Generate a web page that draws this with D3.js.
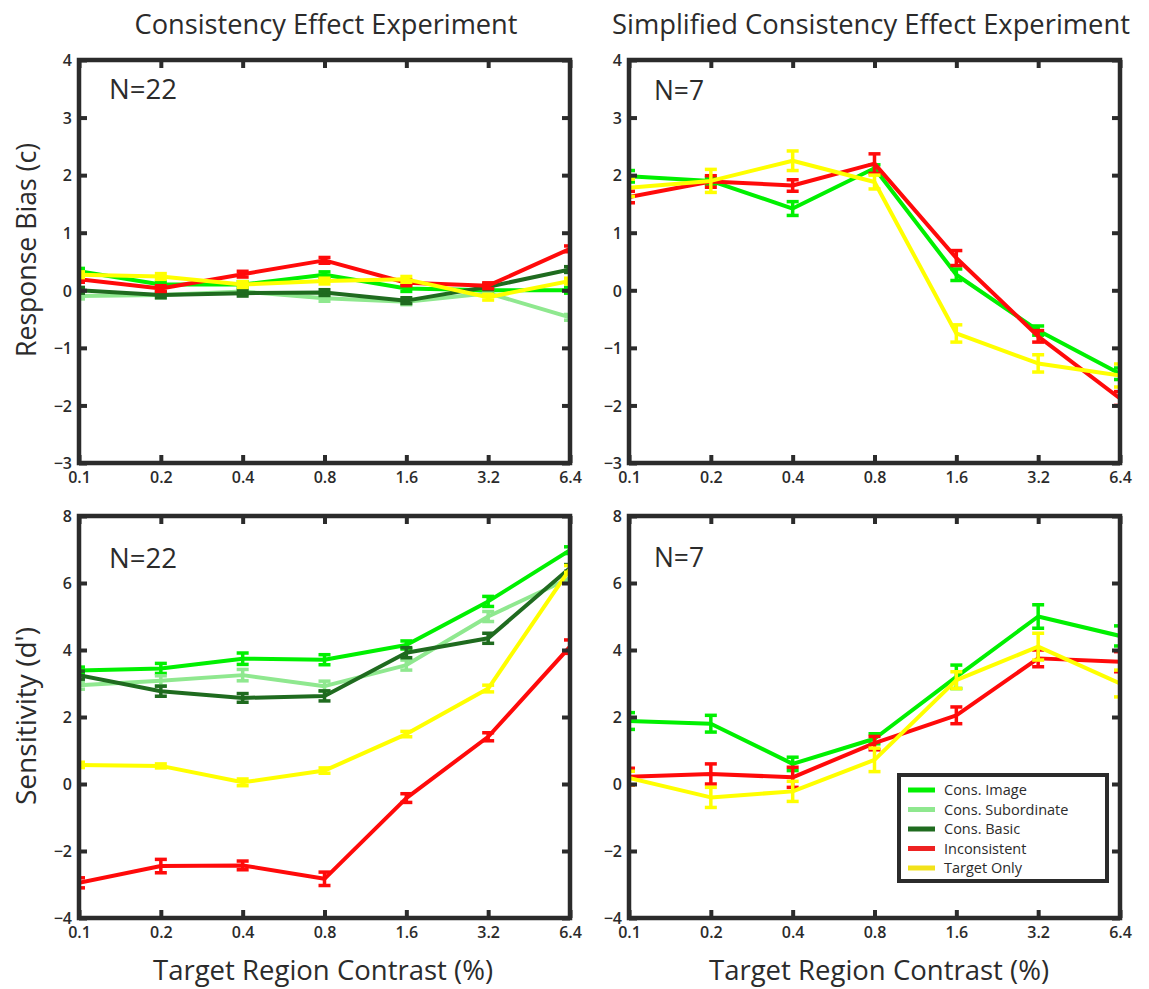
<!DOCTYPE html>
<html>
<head>
<meta charset="utf-8">
<script src="https://cdn.jsdelivr.net/npm/d3@7"></script>
<style>
  html, body { margin: 0; padding: 0; background: #fff; }
  svg { display: block; }
  text { font-family: "Open Sans", "Noto Sans", sans-serif; fill: #2b2b2b; }
</style>
</head>
<body>
<svg id="chart" width="1149" height="989"></svg>
<script>
// Contrast levels (log2-spaced) and their tick labels
const contrasts = [0.1, 0.2, 0.4, 0.8, 1.6, 3.2, 6.4];
const contrastLabels = ["0.1", "0.2", "0.4", "0.8", "1.6", "3.2", "6.4"];

// Condition names and colours
const conditions = ["Cons. Image", "Cons. Subordinate", "Cons. Basic", "Inconsistent", "Target Only"];
const conditionColors = ["#00f000", "#8fe88f", "#1f6b1f", "#ff0a0a", "#ffff00"];
const legendColors = ["#00f000", "#8fe88f", "#1f6b1f", "#ee2222", "#f2e21a"];

// Response bias (c), consistency effect experiment (N=22)
const biasFullImage        = [0.33, 0.10, 0.10, 0.27, 0.03, 0.00, 0.00];
const biasFullSubordinate  = [-0.10, -0.08, -0.02, -0.14, -0.20, -0.05, -0.47];
const biasFullBasic        = [0.00, -0.08, -0.05, -0.04, -0.18, 0.06, 0.36];
const biasFullInconsistent = [0.19, 0.03, 0.28, 0.52, 0.13, 0.08, 0.72];
const biasFullTarget       = [0.27, 0.24, 0.10, 0.16, 0.19, -0.12, 0.16];
const biasFullErr          = [0.05, 0.05, 0.05, 0.05, 0.05, 0.05, 0.05];

// Response bias (c), simplified experiment (N=7)
const biasSimpImage           = [1.98, 1.90, 1.42, 2.12, 0.27, -0.70, -1.45];
const biasSimpImageErr        = [0.10, 0.06, 0.12, 0.06, 0.10, 0.08, 0.10];
const biasSimpInconsistent    = [1.62, 1.89, 1.82, 2.20, 0.56, -0.80, -1.88];
const biasSimpInconsistentErr = [0.10, 0.10, 0.10, 0.17, 0.13, 0.10, 0.12];
const biasSimpTarget          = [1.78, 1.90, 2.25, 1.88, -0.75, -1.27, -1.48];
const biasSimpTargetErr       = [0.15, 0.20, 0.17, 0.12, 0.15, 0.15, 0.20];

// Sensitivity (d'), consistency effect experiment (N=22)
const sensFullImage           = [3.39, 3.45, 3.74, 3.71, 4.15, 5.45, 6.98];
const sensFullImageErr        = [0.10, 0.15, 0.17, 0.15, 0.12, 0.15, 0.10];
const sensFullSubordinate     = [2.95, 3.08, 3.25, 2.92, 3.55, 5.00, 6.15];
const sensFullSubordinateErr  = [0.12, 0.15, 0.17, 0.15, 0.15, 0.15, 0.10];
const sensFullBasic           = [3.25, 2.77, 2.57, 2.63, 3.92, 4.35, 6.45];
const sensFullBasicErr        = [0.12, 0.15, 0.13, 0.15, 0.15, 0.15, 0.10];
const sensFullInconsistent    = [-2.95, -2.45, -2.43, -2.83, -0.42, 1.41, 4.10];
const sensFullInconsistentErr = [0.15, 0.20, 0.13, 0.20, 0.13, 0.12, 0.20];
const sensFullTarget          = [0.57, 0.54, 0.05, 0.40, 1.49, 2.85, 6.42];
const sensFullTargetErr       = [0.08, 0.06, 0.10, 0.08, 0.08, 0.10, 0.10];

// Sensitivity (d'), simplified experiment (N=7)
const sensSimpImage           = [1.88, 1.80, 0.60, 1.35, 3.20, 5.00, 4.42];
const sensSimpImageErr        = [0.25, 0.25, 0.20, 0.15, 0.35, 0.35, 0.30];
const sensSimpInconsistent    = [0.22, 0.30, 0.20, 1.22, 2.05, 3.75, 3.65];
const sensSimpInconsistentErr = [0.25, 0.30, 0.30, 0.20, 0.25, 0.25, 0.30];
const sensSimpTarget          = [0.18, -0.40, -0.22, 0.72, 3.10, 4.10, 3.00];
const sensSimpTargetErr       = [0.20, 0.30, 0.30, 0.35, 0.25, 0.40, 0.40];

// Axis ticks
const biasTicks = [-3, -2, -1, 0, 1, 2, 3, 4];
const sensTicks = [-4, -2, 0, 2, 4, 6, 8];

const svg = d3.select("#chart");
const AXIS = "#2b2b2b";

function drawPanel(p) {
  const x = d3.scaleLog().base(2).domain([0.1, 6.4]).range([p.x0, p.x1]);
  const y = d3.scaleLinear().domain(p.yDomain).range([p.y1, p.y0]);
  const g = svg.append("g");

  const clipId = "clip-" + p.id;
  svg.append("clipPath").attr("id", clipId)
    .append("rect").attr("x", p.x0).attr("y", p.y0)
    .attr("width", p.x1 - p.x0).attr("height", p.y1 - p.y0);

  const plot = g.append("g").attr("clip-path", `url(#${clipId})`);
  const line = d3.line().x((d, i) => x(contrasts[i])).y(d => y(d));

  p.series.forEach(s => {
    const sg = plot.append("g");
    sg.append("path").datum(s.values)
      .attr("d", line).attr("fill", "none")
      .attr("stroke", s.color).attr("stroke-width", 4)
      .attr("stroke-linejoin", "round");
    const pts = s.values.map((v, i) => ({ v, e: s.err[i], c: contrasts[i] }));
    const eb = sg.selectAll("g.eb").data(pts).enter().append("g")
      .attr("stroke", s.color).attr("stroke-width", 3.5);
    eb.append("line")
      .attr("x1", d => x(d.c)).attr("x2", d => x(d.c))
      .attr("y1", d => y(d.v - d.e)).attr("y2", d => y(d.v + d.e));
    eb.append("line")
      .attr("x1", d => x(d.c) - 6).attr("x2", d => x(d.c) + 6)
      .attr("y1", d => y(d.v - d.e)).attr("y2", d => y(d.v - d.e));
    eb.append("line")
      .attr("x1", d => x(d.c) - 6).attr("x2", d => x(d.c) + 6)
      .attr("y1", d => y(d.v + d.e)).attr("y2", d => y(d.v + d.e));
  });

  // Axes: inward ticks on all four sides, labels on bottom and left
  const fmt = (d, i) => contrastLabels[i];
  const bottom = g.append("g").attr("transform", `translate(0,${p.y1})`)
    .call(d3.axisBottom(x).tickValues(contrasts).tickFormat(fmt)
      .tickSizeInner(-8).tickSizeOuter(0).tickPadding(9));
  const top = g.append("g").attr("transform", `translate(0,${p.y0})`)
    .call(d3.axisTop(x).tickValues(contrasts).tickFormat("")
      .tickSizeInner(-8).tickSizeOuter(0));
  const left = g.append("g").attr("transform", `translate(${p.x0},0)`)
    .call(d3.axisLeft(y).tickValues(p.yTicks).tickFormat(d3.format("d"))
      .tickSizeInner(-8).tickSizeOuter(0).tickPadding(7));
  const right = g.append("g").attr("transform", `translate(${p.x1},0)`)
    .call(d3.axisRight(y).tickValues(p.yTicks).tickFormat("")
      .tickSizeInner(-8).tickSizeOuter(0));

  [bottom, top, left, right].forEach(a => {
    a.select(".domain").remove();
    a.selectAll(".tick line").attr("stroke", AXIS).attr("stroke-width", 4);
    a.selectAll(".tick text").attr("fill", AXIS)
      .style("font-size", "16px").style("font-weight", "600");
  });
  left.selectAll(".tick text").attr("dy", "0.36em");

  g.append("rect")
    .attr("x", p.x0).attr("y", p.y0)
    .attr("width", p.x1 - p.x0).attr("height", p.y1 - p.y0)
    .attr("fill", "none").attr("stroke", AXIS).attr("stroke-width", 4.5);

  g.append("text").attr("x", p.x0 + p.nDx).attr("y", p.y0 + p.nDy)
    .style("font-size", "28px").attr("textLength", p.nLen)
    .attr("lengthAdjust", "spacingAndGlyphs").text(p.nLabel);
}

const L = { x0: 79, x1: 570 }, R = { x0: 629, x1: 1120 };
const T = { y0: 60, y1: 463 }, B = { y0: 516, y1: 918 };

drawPanel({ id: "tl", ...L, ...T, yDomain: [-3, 4], yTicks: biasTicks, nLabel: "N=22", nLen: 68, nDx: 30, nDy: 39,
  series: [
    { color: conditionColors[0], values: biasFullImage, err: biasFullErr },
    { color: conditionColors[1], values: biasFullSubordinate, err: biasFullErr },
    { color: conditionColors[2], values: biasFullBasic, err: biasFullErr },
    { color: conditionColors[3], values: biasFullInconsistent, err: biasFullErr },
    { color: conditionColors[4], values: biasFullTarget, err: biasFullErr }
  ] });

drawPanel({ id: "tr", ...R, ...T, yDomain: [-3, 4], yTicks: biasTicks, nLabel: "N=7", nLen: 50, nDx: 25, nDy: 40,
  series: [
    { color: conditionColors[0], values: biasSimpImage, err: biasSimpImageErr },
    { color: conditionColors[3], values: biasSimpInconsistent, err: biasSimpInconsistentErr },
    { color: conditionColors[4], values: biasSimpTarget, err: biasSimpTargetErr }
  ] });

drawPanel({ id: "bl", ...L, ...B, yDomain: [-4, 8], yTicks: sensTicks, nLabel: "N=22", nLen: 68, nDx: 30, nDy: 52,
  series: [
    { color: conditionColors[0], values: sensFullImage, err: sensFullImageErr },
    { color: conditionColors[1], values: sensFullSubordinate, err: sensFullSubordinateErr },
    { color: conditionColors[2], values: sensFullBasic, err: sensFullBasicErr },
    { color: conditionColors[3], values: sensFullInconsistent, err: sensFullInconsistentErr },
    { color: conditionColors[4], values: sensFullTarget, err: sensFullTargetErr }
  ] });

drawPanel({ id: "br", ...R, ...B, yDomain: [-4, 8], yTicks: sensTicks, nLabel: "N=7", nLen: 50, nDx: 25, nDy: 51,
  series: [
    { color: conditionColors[0], values: sensSimpImage, err: sensSimpImageErr },
    { color: conditionColors[3], values: sensSimpInconsistent, err: sensSimpInconsistentErr },
    { color: conditionColors[4], values: sensSimpTarget, err: sensSimpTargetErr }
  ] });

// Column titles
svg.append("text").attr("x", 326).attr("y", 34).attr("text-anchor", "middle")
  .style("font-size", "28px").attr("textLength", 383).attr("lengthAdjust", "spacingAndGlyphs")
  .text("Consistency Effect Experiment");
svg.append("text").attr("x", 871).attr("y", 34).attr("text-anchor", "middle")
  .style("font-size", "28px").attr("textLength", 518).attr("lengthAdjust", "spacingAndGlyphs")
  .text("Simplified Consistency Effect Experiment");

// Axis titles
[["Response Bias (c)", 250, 214], ["Sensitivity (d')", 716, 178]].forEach(([t, cy, len]) => {
  svg.append("text").attr("transform", `translate(36,${cy}) rotate(-90)`)
    .attr("text-anchor", "middle").style("font-size", "27px")
    .attr("textLength", len).attr("lengthAdjust", "spacingAndGlyphs").text(t);
});
[323, 879].forEach(cx => {
  svg.append("text").attr("x", cx).attr("y", 980).attr("text-anchor", "middle")
    .style("font-size", "27px").attr("textLength", 340).attr("lengthAdjust", "spacingAndGlyphs")
    .text("Target Region Contrast (%)");
});

// Legend
const lg = svg.append("g");
lg.append("rect").attr("x", 899).attr("y", 775).attr("width", 208).attr("height", 106)
  .attr("fill", "#fff").attr("stroke", AXIS).attr("stroke-width", 4);
conditions.forEach((name, i) => {
  const cy = 790 + i * 19.5;
  lg.append("line").attr("x1", 908).attr("x2", 935).attr("y1", cy).attr("y2", cy)
    .attr("stroke", legendColors[i]).attr("stroke-width", 5);
  lg.append("text").attr("x", 944).attr("y", cy).attr("dy", "0.35em")
    .style("font-size", "14.5px").text(name);
});
</script>
</body>
</html>
